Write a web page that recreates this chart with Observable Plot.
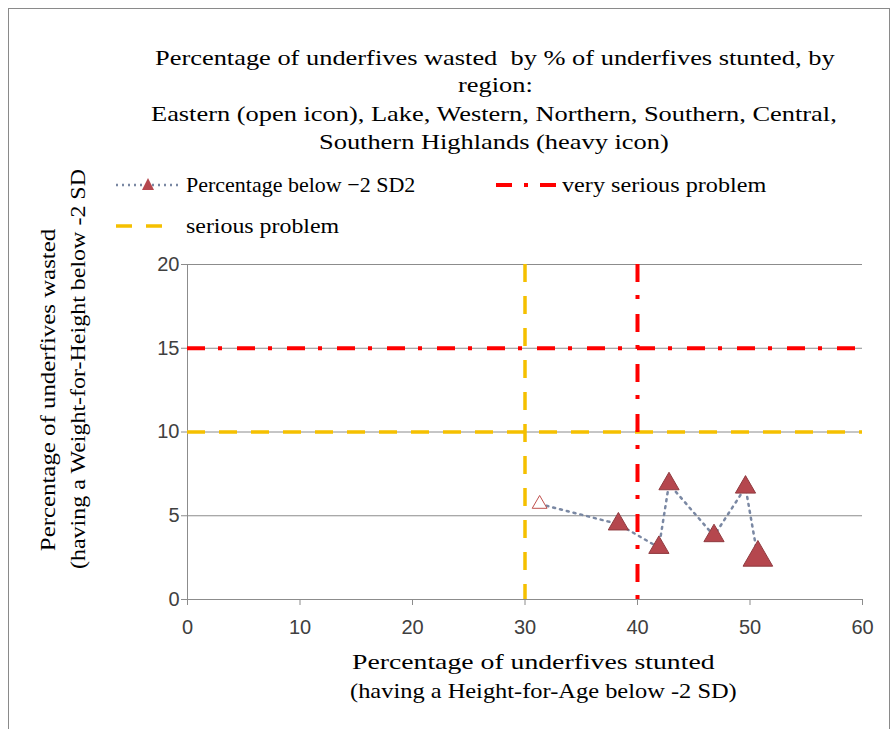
<!DOCTYPE html>
<html>
<head>
<meta charset="utf-8">
<script src="https://cdn.jsdelivr.net/npm/d3@7"></script>
<script src="https://cdn.jsdelivr.net/npm/@observablehq/plot@0.6"></script>
<style>
  html, body { margin: 0; padding: 0; background: #fff; }
  #wrap { position: relative; width: 896px; height: 729px; overflow: hidden; font-family: "Liberation Serif", "Times New Roman", serif; color: #000; }
  #frame { position: absolute; left: 8px; top: 8px; width: 882px; height: 740px; border: 1px solid #8a8a8a; box-sizing: border-box; }
  .t { position: absolute; font-size: 22px; white-space: nowrap; line-height: 26px; transform-origin: 0 50%; }
  #chart { position: absolute; left: 0; top: 250px; }
  svg.lg { position: absolute; overflow: visible; }
</style>
</head>
<body>
<div id="wrap">
  <div id="frame"></div>
  <div class="t" data-cx="495" data-cy="58" data-s="1.2">Percentage of underfives wasted&nbsp; by % of underfives stunted, by</div>
  <div class="t" data-cx="495" data-cy="85" data-s="1.2">region:</div>
  <div class="t" data-cx="494" data-cy="114" data-s="1.2">Eastern (open icon), Lake, Western, Northern, Southern, Central,</div>
  <div class="t" data-cx="494" data-cy="142" data-s="1.2">Southern Highlands (heavy icon)</div>

  <svg class="lg" style="left:110px;top:172px" width="80" height="26">
    <line x1="6" y1="13" x2="70" y2="13" stroke="#7a88a3" stroke-width="2.5" stroke-dasharray="2,4"/>
    <path d="M38,6 L44,18 L32,18 Z" fill="#b5474e"/>
  </svg>
  <div class="t" data-x="186" data-cy="185" data-s="1.0">Percentage below −2 SD2</div>
  <svg class="lg" style="left:490px;top:172px" width="80" height="26">
    <line x1="6" y1="13" x2="70" y2="13" stroke="#ff0000" stroke-width="4" stroke-dasharray="16,12,4,12"/>
  </svg>
  <div class="t" data-x="562" data-cy="185" data-s="1.1">very serious problem</div>
  <svg class="lg" style="left:110px;top:213px" width="80" height="26">
    <line x1="6" y1="13" x2="62" y2="13" stroke="#f5c000" stroke-width="3.5" stroke-dasharray="16,14"/>
  </svg>
  <div class="t" data-x="186" data-cy="226" data-s="1.085">serious problem</div>

  <div class="t" id="yl1">Percentage of underfives wasted</div>
  <div class="t" id="yl2">(having a Weight-for-Height below -2 SD</div>

  <div id="chart"></div>

  <div class="t" data-cx="533" data-cy="662" data-s="1.26">Percentage of underfives stunted</div>
  <div class="t" data-cx="543" data-cy="691" data-s="1.11">(having a Height-for-Age below -2 SD)</div>
</div>
<script>
// Data
const regions = ["Eastern", "Lake", "Western", "Northern", "Southern", "Central", "Southern Highlands"];
const stunted = [31.3, 38.3, 41.9, 42.8, 46.8, 49.6, 50.7];
const wasted  = [5.7, 4.5, 3.1, 6.9, 3.8, 6.7, 2.5];

const xTicks = [0, 10, 20, 30, 40, 50, 60];
const yTicks = [0, 5, 10, 15, 20];
const seriousLevelWasted = [10];
const verySeriousLevelWasted = [15];
const seriousLevelStunted = [30];
const verySeriousLevelStunted = [40];

const data = regions.map((r, i) => ({region: r, x: stunted[i], y: wasted[i]}));

const fillRed = "#b5474e";
const plot = Plot.plot({
  width: 896,
  height: 470,
  marginTop: 14,
  marginBottom: 121,
  marginLeft: 187,
  marginRight: 34,
  style: {fontFamily: "'Liberation Sans', Arial, sans-serif", fontSize: "20px", color: "#404040", background: "transparent"},
  x: {domain: [0, 60], ticks: xTicks, label: null},
  y: {domain: [0, 20], ticks: yTicks, label: null},
  r: {type: "identity"},
  fill: {type: "identity"},
  stroke: {type: "identity"},
  marks: [
    Plot.ruleY(yTicks.filter(d => d > 0), {stroke: "#8c8c8c", strokeWidth: 1}),
    Plot.ruleX([0], {stroke: "#8c8c8c", strokeWidth: 1}),
    Plot.ruleY([0], {stroke: "#8c8c8c", strokeWidth: 1}),
    Plot.ruleY(seriousLevelWasted, {stroke: "#f5c000", strokeWidth: 3.5, strokeDasharray: "18,14"}),
    Plot.ruleX(seriousLevelStunted, {stroke: "#f5c000", strokeWidth: 3.5, strokeDasharray: "18,14"}),
    Plot.ruleY(verySeriousLevelWasted, {stroke: "#ff0000", strokeWidth: 4, strokeDasharray: "18,13,4,15"}),
    Plot.ruleX(verySeriousLevelStunted, {stroke: "#ff0000", strokeWidth: 4, strokeDasharray: "18,13,4,15"}),
    Plot.line(data, {x: "x", y: "y", stroke: "#7a88a3", strokeWidth: 2.5, strokeDasharray: "2,5"}),
    Plot.dot(data, {
      x: "x", y: "y", symbol: "triangle",
      r: d => d.region === "Southern Highlands" ? 11 : d.region === "Eastern" ? 5.5 : 7.5,
      fill: d => d.region === "Eastern" ? "white" : fillRed,
      stroke: d => d.region === "Eastern" ? "#c0504d" : "#8f3a3f",
      strokeWidth: 1
    }),
    Plot.axisX({ticks: xTicks, tickSize: 6, tickPadding: 14, stroke: "#8c8c8c", fill: "#404040", fontSize: 20}),
    Plot.axisY({ticks: yTicks, tickSize: 6, tickPadding: 2, stroke: "#8c8c8c", fill: "#404040", fontSize: 20})
  ]
});
document.getElementById("chart").appendChild(plot);

// place HTML texts with horizontal stretch
document.querySelectorAll(".t[data-cy]").forEach(el => {
  const s = +el.dataset.s || 1;
  const w = el.offsetWidth, h = el.offsetHeight;
  const cy = +el.dataset.cy;
  const left = el.dataset.cx != null ? (+el.dataset.cx - w * s / 2) : +el.dataset.x;
  el.style.left = left + "px";
  el.style.top = (cy - h / 2) + "px";
  el.style.transform = `scaleX(${s})`;
});

// rotated y-axis labels
function placeY(id, cx, cy, s) {
  const el = document.getElementById(id);
  const w = el.offsetWidth, h = el.offsetHeight;
  el.style.transformOrigin = "center center";
  el.style.left = (cx - w / 2) + "px";
  el.style.top = (cy - h / 2) + "px";
  el.style.transform = `rotate(-90deg) scaleX(${s})`;
}
placeY("yl1", 47, 390, 1.13);
placeY("yl2", 77, 369, 1.09);
</script>
</body>
</html>
